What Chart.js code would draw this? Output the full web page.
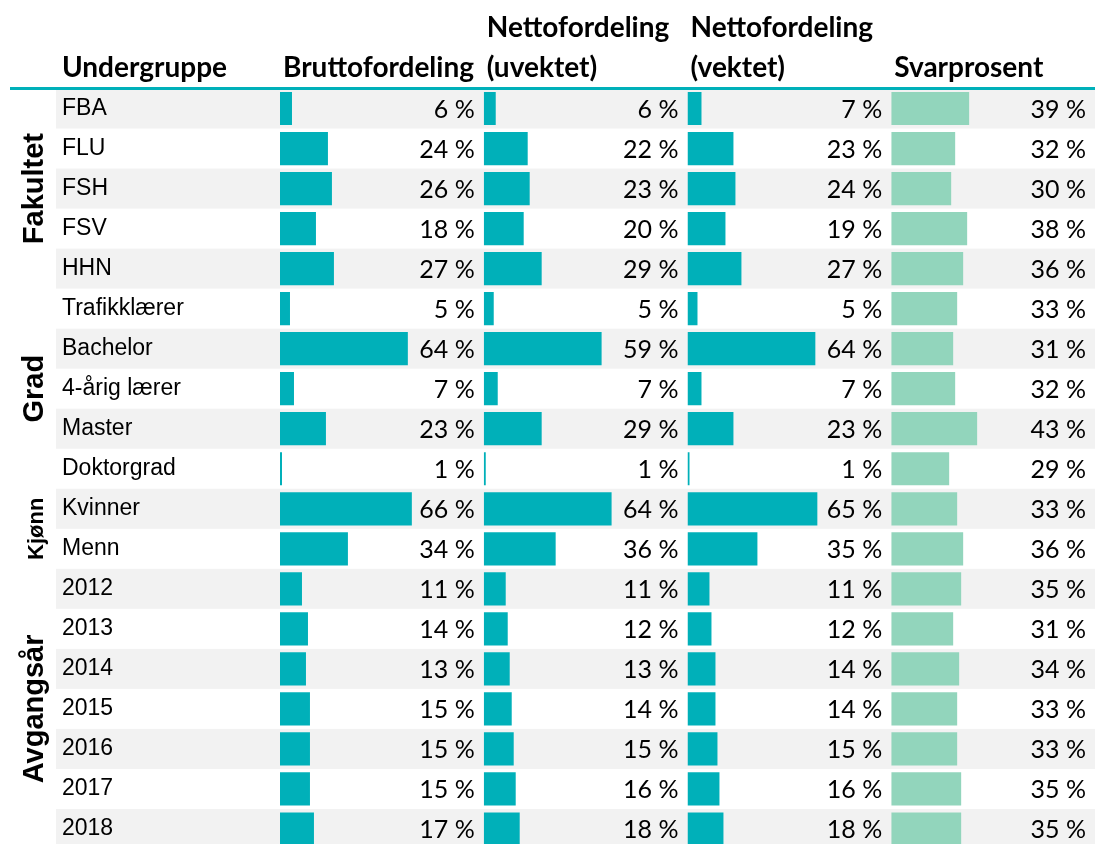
<!DOCTYPE html>
<html>
<head>
<meta charset="utf-8">
<script src="https://cdn.jsdelivr.net/npm/chart.js@4.4.1/dist/chart.umd.min.js"></script>
<style>
    html, body { margin: 0; padding: 0; background: #fff; overflow: hidden; width: 1095px; height: 844px; }
    canvas { display: block; }
</style>
</head>
<body>
<canvas id="fordelingChart" width="1095" height="849"></canvas>
<script>
const categories = [
    'FBA', 'FLU', 'FSH', 'FSV', 'HHN',
    'Trafikklærer', 'Bachelor', '4-årig lærer', 'Master', 'Doktorgrad',
    'Kvinner', 'Menn',
    '2012', '2013', '2014', '2015', '2016', '2017', '2018'
]
const bruttofordeling = [6, 24, 26, 18, 27, 5, 64, 7, 23, 1, 66, 34, 11, 14, 13, 15, 15, 15, 17]
const nettoUvektet = [6, 22, 23, 20, 29, 5, 59, 7, 29, 1, 64, 36, 11, 12, 13, 14, 15, 16, 18]
const nettoVektet = [7, 23, 24, 19, 27, 5, 64, 7, 23, 1, 65, 35, 11, 12, 14, 14, 15, 16, 18]
const svarprosent = [39, 32, 30, 38, 36, 33, 31, 32, 43, 29, 33, 36, 35, 31, 34, 33, 33, 35, 35]

const firstHeader = 'Undergruppe'
const columnHeaders = [
    ['Bruttofordeling'],
    ['Nettofordeling', '(uvektet)'],
    ['Nettofordeling', '(vektet)'],
    ['Svarprosent']
]
const groups = [
    { name: 'Fakultet', from: 0, to: 4 },
    { name: 'Grad', from: 5, to: 9 },
    { name: 'Kjønn', from: 10, to: 11 },
    { name: 'Avgangsår', from: 12, to: 18 }
]

const TEAL = '#00B0B9'
const GREEN = '#92D5BC'
const axisIds = ['x0', 'x1', 'x2', 'x3']

// grey stripes behind every second row
const stripes = {
    id: 'stripes',
    beforeDraw(chart) {
        const { ctx, scales: { y } } = chart
        const step = y.getPixelForValue(1) - y.getPixelForValue(0)
        ctx.save()
        ctx.fillStyle = '#F2F2F2'
        categories.forEach((c, i) => {
            if (i % 2 === 0) {
                const yc = y.getPixelForValue(i)
                ctx.fillRect(56, yc - step / 2, chart.width - 56, step)
            }
        })
        ctx.restore()
    }
}

// value labels, right aligned in each column
const valueLabels = {
    id: 'valueLabels',
    afterDatasetsDraw(chart) {
        const { ctx } = chart
        ctx.save()
        ctx.font = '25px Lato'
        ctx.fillStyle = '#000'
        ctx.textAlign = 'right'
        ctx.textBaseline = 'middle'
        chart.data.datasets.forEach((ds, d) => {
            const meta = chart.getDatasetMeta(d)
            const xs = chart.scales[axisIds[d]]
            meta.data.forEach((bar, i) => {
                ctx.fillText(ds.data[i] + ' %', xs.right - 9, bar.y + 1)
            })
        })
        ctx.restore()
    }
}

// headers, header rule and rotated group names
const headers = {
    id: 'headers',
    afterDraw(chart) {
        const { ctx, scales } = chart
        const y = scales.y
        const step = y.getPixelForValue(1) - y.getPixelForValue(0)
        ctx.save()
        ctx.fillStyle = TEAL
        ctx.fillRect(10, chart.chartArea.top - 1.5, chart.width - 10, 3)

        ctx.fillStyle = '#000'
        ctx.font = 'bold 28px Lato'
        ctx.textAlign = 'left'
        ctx.textBaseline = 'alphabetic'
        ctx.fillText(firstHeader, 62, 77)
        columnHeaders.forEach((lines, c) => {
            const left = scales[axisIds[c]].left + 3
            lines.forEach((line, k) => {
                ctx.fillText(line, left, 77 - (lines.length - 1 - k) * 40)
            })
        })

        groups.forEach((g) => {
            const top = y.getPixelForValue(g.from) - step / 2
            const bottom = y.getPixelForValue(g.to) + step / 2
            let size = 29
            ctx.font = 'bold ' + size + 'px "Liberation Sans"'
            const w = ctx.measureText(g.name).width
            if (w > bottom - top - 15) {
                size = Math.floor(size * (bottom - top - 15) / w)
                ctx.font = 'bold ' + size + 'px "Liberation Sans"'
            }
            ctx.save()
            ctx.translate(43, (top + bottom) / 2)
            ctx.rotate(-Math.PI / 2)
            ctx.textAlign = 'center'
            ctx.fillText(g.name, 0, 0)
            ctx.restore()
        })
        ctx.restore()
    }
}

const xAxis = () => ({
    type: 'linear',
    position: 'bottom',
    stack: 'columns',
    stackWeight: 1,
    display: false,
    min: 0,
    max: 102
})

const canvas = document.getElementById('fordelingChart')

new Chart(canvas, {
    type: 'bar',
    data: {
        labels: categories,
        datasets: [
            { label: 'Bruttofordeling', data: bruttofordeling, xAxisID: 'x0', backgroundColor: TEAL },
            { label: 'Nettofordeling (uvektet)', data: nettoUvektet, xAxisID: 'x1', backgroundColor: TEAL },
            { label: 'Nettofordeling (vektet)', data: nettoVektet, xAxisID: 'x2', backgroundColor: TEAL },
            { label: 'Svarprosent', data: svarprosent, xAxisID: 'x3', backgroundColor: GREEN }
        ]
    },
    options: {
        indexAxis: 'y',
        responsive: false,
        animation: false,
        datasets: {
            bar: {
                grouped: false,
                categoryPercentage: 1,
                barPercentage: 0.83
            }
        },
        layout: {
            padding: { left: 62, right: 0, top: 88.5, bottom: 0 }
        },
        plugins: {
            legend: { display: false },
            tooltip: { enabled: false }
        },
        scales: {
            y: {
                type: 'category',
                position: 'left',
                grid: { display: false },
                border: { display: false },
                ticks: {
                    autoSkip: false,
                    crossAlign: 'far',
                    color: '#000',
                    font: { family: '"Liberation Sans"', size: 23 }
                },
                afterFit(scale) {
                    scale.width = 218
                    scale.paddingTop = 0
                    scale.paddingBottom = 0
                }
            },
            x0: xAxis(),
            x1: xAxis(),
            x2: xAxis(),
            x3: xAxis()
        }
    },
    plugins: [stripes, valueLabels, headers]
})
</script>
</body>
</html>
